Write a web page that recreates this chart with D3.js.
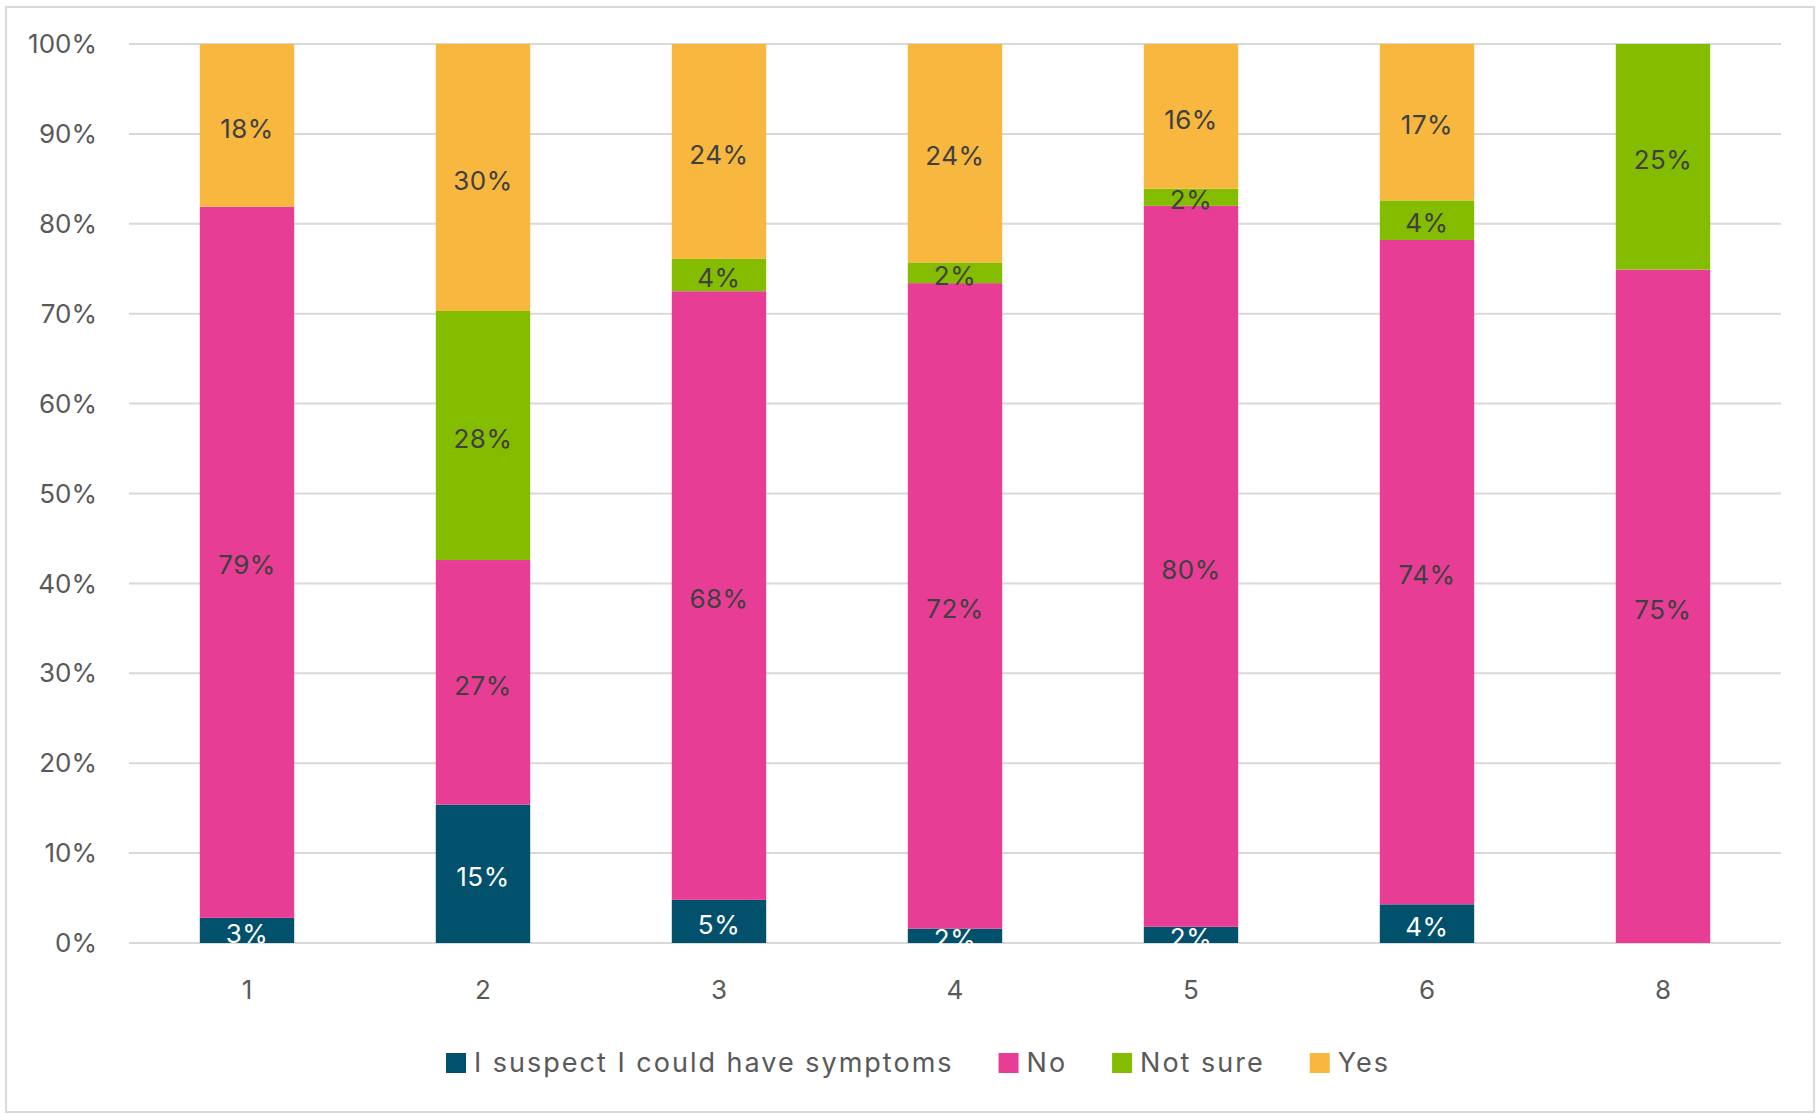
<!DOCTYPE html>
<html lang="en">
<head>
<meta charset="utf-8">
<title>Symptoms by group</title>
<script src="https://d3js.org/d3.v7.min.js"></script>
<style>
    body {
        margin: 0;
        background: #ffffff;
    }
    text {
        font-family: 'Inter', 'Noto Sans', sans-serif;
    }
    .grid line {
        stroke: #d9d9d9;
        stroke-width: 2px;
    }
    .tick-label {
        fill: #595959;
        font-size: 26px;
    }
    .legend text {
        fill: #595959;
        font-size: 27px;
        letter-spacing: 2px;
    }
</style>
</head>
<body>
<svg width="1819" height="1114"></svg>
<script>
    // categories along the x axis
    var groups = ["1", "2", "3", "4", "5", "6", "8"];

    // series names, bottom to top
    var seriesNames = ["I suspect I could have symptoms", "No", "Not sure", "Yes"];

    // values in percent
    var suspect = [2.8, 15.4, 4.8, 1.6, 1.8, 4.3, 0];
    var no      = [79.1, 27.2, 67.7, 71.8, 80.2, 73.9, 74.9];
    var notSure = [0, 27.7, 3.6, 2.3, 1.9, 4.4, 25.1];
    var yes     = [18.1, 29.7, 23.9, 24.3, 16.1, 17.4, 0];

    var yTicks = [0, 10, 20, 30, 40, 50, 60, 70, 80, 90, 100];

    var colors = ["#01506c", "#e73d95", "#84bc00", "#f8b73e"];
    var labelColors = ["#ffffff", "#404040", "#404040", "#404040"];

    var svg = d3.select("svg"),
        margin = {top: 44, right: 38, bottom: 171, left: 129},
        width = +svg.attr("width") - margin.left - margin.right,
        height = +svg.attr("height") - margin.top - margin.bottom;

    // outer chart border
    svg.append("rect")
        .attr("x", 6)
        .attr("y", 7)
        .attr("width", 1808)
        .attr("height", 1105)
        .attr("fill", "#ffffff")
        .attr("stroke", "#d9d9d9")
        .attr("stroke-width", 2);

    var g = svg.append("g").attr("transform", "translate(" + margin.left + "," + margin.top + ")");

    var x = d3.scaleBand()
        .domain(groups)
        .range([0, width])
        .paddingInner(0.6)
        .paddingOuter(0.3);

    var y = d3.scaleLinear()
        .domain([0, 100])
        .range([height, 0]);

    // build rows for the stack
    var rows = groups.map(function(grp, i) {
        var r = {group: grp};
        r[seriesNames[0]] = suspect[i];
        r[seriesNames[1]] = no[i];
        r[seriesNames[2]] = notSure[i];
        r[seriesNames[3]] = yes[i];
        return r;
    });

    var stacked = d3.stack().keys(seriesNames)(rows);

    // gridlines
    g.append("g")
        .attr("class", "grid")
        .selectAll("line")
        .data(yTicks)
        .enter().append("line")
        .attr("x1", 0)
        .attr("x2", width)
        .attr("y1", function(d) { return y(d); })
        .attr("y2", function(d) { return y(d); });

    // y tick labels
    g.selectAll(".ylab")
        .data(yTicks)
        .enter().append("text")
        .attr("class", "tick-label")
        .attr("x", -32)
        .attr("y", function(d) { return y(d); })
        .attr("dy", "0.35em")
        .attr("text-anchor", "end")
        .text(function(d) { return d + "%"; });

    // x tick labels
    g.selectAll(".xlab")
        .data(groups)
        .enter().append("text")
        .attr("class", "tick-label")
        .attr("x", function(d) { return x(d) + x.bandwidth() / 2; })
        .attr("y", height + 47)
        .attr("dy", "0.35em")
        .attr("text-anchor", "middle")
        .text(function(d) { return d; });

    // bars
    var layer = g.selectAll(".layer")
        .data(stacked)
        .enter().append("g")
        .attr("class", "layer")
        .attr("fill", function(d, i) { return colors[i]; });

    layer.selectAll("rect")
        .data(function(d) { return d; })
        .enter().append("rect")
        .attr("x", function(d) { return x(d.data.group); })
        .attr("y", function(d) { return y(d[1]); })
        .attr("width", x.bandwidth())
        .attr("height", function(d) { return y(d[0]) - y(d[1]); });

    // data labels
    layer.each(function(s, si) {
        d3.select(this).selectAll("text")
            .data(s.filter(function(d) { return d[1] - d[0] > 0; }))
            .enter().append("text")
            .attr("x", function(d) { return x(d.data.group) + x.bandwidth() / 2; })
            .attr("y", function(d) { return y((d[0] + d[1]) / 2); })
            .attr("dy", "0.47em")
            .attr("text-anchor", "middle")
            .attr("font-size", "26px")
            .attr("letter-spacing", "0.5px")
            .attr("fill", labelColors[si])
            .text(function(d) { return Math.round(d[1] - d[0]) + "%"; });
    });

    // legend
    var legend = svg.append("g").attr("class", "legend");
    var legendY = 1063, sq = 20, gapText = 8, gapItem = 45;
    var items = legend.selectAll("g")
        .data(seriesNames)
        .enter().append("g");
    items.append("rect")
        .attr("width", sq)
        .attr("height", sq)
        .attr("y", legendY - sq / 2)
        .attr("fill", function(d, i) { return colors[i]; });
    items.append("text")
        .attr("x", sq + gapText)
        .attr("y", legendY)
        .attr("dy", "0.35em")
        .text(function(d) { return d; });

    var offsets = [], total = 0;
    items.each(function() {
        var w = sq + gapText + d3.select(this).select("text").node().getComputedTextLength();
        offsets.push(total);
        total += w + gapItem;
    });
    total -= gapItem;
    var startX = 918 - total / 2;
    items.attr("transform", function(d, i) { return "translate(" + (startX + offsets[i]) + ",0)"; });
</script>
</body>
</html>
